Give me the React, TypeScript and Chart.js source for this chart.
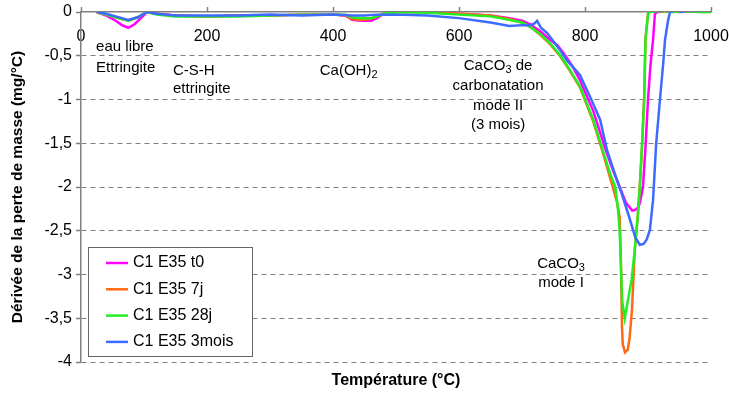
import React, { useEffect, useRef } from 'react';
import { Chart, registerables } from 'chart.js';

Chart.register(...registerables);

const FONT = '"Liberation Sans", Arial, Helvetica, sans-serif';

// ---- Data ----
const seriesLabels = ['C1 E35 t0', 'C1 E35 7j', 'C1 E35 28j', 'C1 E35 3mois'];
const seriesColors = ['#ff00ff', '#ff6a13', '#22ee22', '#3d6bff'];

const t0Temps = [25, 40, 55, 65, 75, 85, 95, 105, 120, 150, 200, 250, 300, 350, 400, 420, 430, 445, 460, 470, 480, 500, 550, 600, 650, 680, 700, 713, 729, 745, 756, 765, 780, 792, 813, 833, 845, 855, 865, 875, 880, 885, 888, 892, 896, 900, 904, 908, 911, 915, 930, 950, 970, 985, 1000];
const t0Values = [0, -0.04, -0.1, -0.15, -0.18, -0.14, -0.07, 0, -0.02, -0.04, -0.05, -0.04, -0.04, -0.03, -0.03, -0.04, -0.09, -0.1, -0.1, -0.07, -0.02, 0, 0, -0.02, -0.04, -0.07, -0.1, -0.14, -0.22, -0.32, -0.38, -0.46, -0.62, -0.78, -1.13, -1.58, -1.82, -2.0, -2.18, -2.27, -2.26, -2.23, -2.15, -2.0, -1.55, -1.0, -0.6, -0.32, -0.02, 0, 0.01, 0, 0.01, 0, 0.01];

const j7Temps = [25, 40, 55, 75, 90, 105, 120, 150, 200, 250, 300, 350, 400, 420, 430, 445, 460, 470, 480, 500, 550, 600, 650, 680, 700, 713, 729, 745, 760, 775, 792, 813, 828, 844, 851, 855, 857, 858.7, 860, 863.5, 868, 871, 874.6, 879, 884, 887, 890.5, 894, 896, 900, 903, 915, 930, 945, 960, 975, 990, 1000];
const j7Values = [0, -0.03, -0.06, -0.1, -0.06, 0, -0.02, -0.04, -0.05, -0.04, -0.04, -0.03, -0.03, -0.04, -0.08, -0.09, -0.08, -0.05, -0.02, 0, 0, -0.02, -0.04, -0.08, -0.12, -0.17, -0.26, -0.37, -0.5, -0.66, -0.86, -1.25, -1.6, -2.0, -2.18, -2.34, -2.83, -3.6, -3.8, -3.89, -3.86, -3.71, -3.4, -2.72, -2.3, -1.98, -1.55, -0.95, -0.3, -0.02, 0.01, 0.02, 0, 0.02, 0.01, 0.02, 0, 0.01];

const j28Temps = [25, 40, 55, 75, 90, 105, 120, 150, 200, 250, 300, 350, 400, 420, 430, 445, 460, 470, 480, 500, 550, 600, 650, 680, 700, 713, 729, 745, 760, 775, 792, 813, 829, 840, 848, 852, 855, 857, 859, 863, 868, 874, 879, 884, 887, 890, 894, 896, 900, 903, 920, 940, 960, 980, 1000];
const j28Values = [0, -0.03, -0.06, -0.1, -0.06, 0, -0.03, -0.05, -0.05, -0.05, -0.04, -0.03, -0.03, -0.03, -0.06, -0.07, -0.07, -0.05, -0.02, 0, -0.01, -0.03, -0.05, -0.09, -0.12, -0.17, -0.25, -0.36, -0.49, -0.65, -0.85, -1.23, -1.6, -1.85, -2.0, -2.23, -2.5, -2.9, -3.3, -3.5, -3.3, -3.06, -2.72, -2.32, -2.0, -1.58, -1.0, -0.32, -0.03, 0, 0.01, 0, 0.01, 0, 0];

const m3Temps = [25, 40, 55, 75, 90, 105, 120, 150, 200, 250, 300, 350, 400, 430, 450, 470, 500, 550, 600, 650, 680, 700, 713, 720, 724, 730, 740, 760, 771, 792, 810, 824, 835, 845, 858, 870, 880, 887, 893, 898, 903, 908, 913, 919, 924, 927, 932, 935, 945, 955, 965, 975, 985, 1000];
const m3Values = [0, -0.02, -0.05, -0.09, -0.06, 0, -0.02, -0.04, -0.04, -0.04, -0.03, -0.04, -0.03, -0.04, -0.04, -0.03, -0.03, -0.04, -0.07, -0.12, -0.16, -0.15, -0.15, -0.13, -0.1, -0.18, -0.24, -0.43, -0.55, -0.72, -1.0, -1.23, -1.58, -1.8, -2.07, -2.34, -2.58, -2.66, -2.65, -2.6, -2.49, -2.15, -1.5, -1.0, -0.6, -0.32, -0.09, 0, 0.02, 0, 0.03, 0.01, 0.02, 0.01];

const seriesTemps = [t0Temps, j7Temps, j28Temps, m3Temps];
const seriesValues = [t0Values, j7Values, j28Values, m3Values];

const xTicks = [0, 200, 400, 600, 800, 1000];
const yTicks = [0, -0.5, -1, -1.5, -2, -2.5, -3, -3.5, -4];

const xTitle = 'Température (°C)';
const yTitle = 'Dérivée de la perte de masse (mg/°C)';

// annotation texts; parts: [text, isSubscript]
type Part = [string, boolean];
const annotations: { parts: Part[]; t: number; v: number; align: 'left' | 'center' }[] = [
  { parts: [['eau libre', false]], t: 24, v: -0.4, align: 'left' },
  { parts: [['Ettringite', false]], t: 24, v: -0.64, align: 'left' },
  { parts: [['C-S-H', false]], t: 146, v: -0.674, align: 'left' },
  { parts: [['ettringite', false]], t: 146, v: -0.88, align: 'left' },
  { parts: [['Ca(OH)', false], ['2', true]], t: 379, v: -0.674, align: 'left' },
  { parts: [['CaCO', false], ['3', true], [' de', false]], t: 662, v: -0.617, align: 'center' },
  { parts: [['carbonatation', false]], t: 662, v: -0.846, align: 'center' },
  { parts: [['mode II', false]], t: 662, v: -1.074, align: 'center' },
  { parts: [['(3 mois)', false]], t: 662, v: -1.29, align: 'center' },
  { parts: [['CaCO', false], ['3', true]], t: 762, v: -2.88, align: 'center' },
  { parts: [['mode I', false]], t: 762, v: -3.1, align: 'center' },
];

function drawRich(ctx: CanvasRenderingContext2D, parts: Part[], x: number, y: number, align: string) {
  const mainFont = `15px ${FONT}`;
  const subFont = `11px ${FONT}`;
  let total = 0;
  const widths = parts.map(([txt, sub]) => {
    ctx.font = sub ? subFont : mainFont;
    const w = ctx.measureText(txt).width;
    total += w;
    return w;
  });
  let cx = align === 'center' ? x - total / 2 : x;
  ctx.textAlign = 'left';
  ctx.textBaseline = 'middle';
  parts.forEach(([txt, sub], i) => {
    ctx.font = sub ? subFont : mainFont;
    ctx.fillText(txt, cx, sub ? y + 4 : y);
    cx += widths[i];
  });
}

const overlayPlugin = {
  id: 'overlay',
  afterDraw(chart: any) {
    const { ctx, chartArea } = chart;
    const xs = chart.scales.x;
    const ys = chart.scales.y;
    ctx.save();
    ctx.fillStyle = '#000';
    for (const a of annotations) {
      drawRich(ctx, a.parts, xs.getPixelForValue(a.t), ys.getPixelForValue(a.v), a.align);
    }
    // x-axis title
    ctx.font = `bold 16px ${FONT}`;
    ctx.textAlign = 'center';
    ctx.textBaseline = 'middle';
    ctx.fillStyle = '#000';
    ctx.fillText(xTitle, (chartArea.left + chartArea.right) / 2, chartArea.bottom + 19);

    // legend box
    const bx = chartArea.left + 7;
    const by = chartArea.top + 235;
    const bw = 164;
    const bh = 109;
    ctx.fillStyle = '#fff';
    ctx.fillRect(bx, by, bw, bh);
    ctx.strokeStyle = '#666';
    ctx.lineWidth = 1;
    ctx.strokeRect(bx + 0.5, by + 0.5, bw, bh);
    ctx.font = `16px ${FONT}`;
    ctx.textAlign = 'left';
    seriesLabels.forEach((lab, i) => {
      const ry = by + 16 + i * 26.3;
      ctx.strokeStyle = seriesColors[i];
      ctx.lineWidth = 2.5;
      ctx.beginPath();
      ctx.moveTo(bx + 18, ry);
      ctx.lineTo(bx + 40, ry);
      ctx.stroke();
      ctx.fillStyle = '#000';
      ctx.fillText(lab, bx + 45, ry);
    });
    ctx.restore();
  },
};

export default function App() {
  const ref = useRef<HTMLCanvasElement>(null);
  useEffect(() => {
    document.body.style.margin = '0';
    const datasets = seriesLabels.map((label, i) => ({
      label,
      data: seriesTemps[i].map((t, k) => ({ x: t, y: seriesValues[i][k] })),
      borderColor: seriesColors[i],
      backgroundColor: seriesColors[i],
      borderWidth: 2.5,
      pointRadius: 0,
      tension: 0,
      fill: false,
      order: 4 - i,
    }));
    const chart = new Chart(ref.current as HTMLCanvasElement, {
      type: 'line',
      data: { datasets },
      plugins: [overlayPlugin],
      options: {
        responsive: false,
        animation: false,
        layout: { padding: { left: 0, right: 18, top: 0, bottom: 42 } },
        plugins: { legend: { display: false }, tooltip: { enabled: false }, title: { display: false } },
        scales: {
          x: {
            type: 'linear',
            position: 'top',
            min: 0,
            max: 1000,
            afterBuildTicks: (s: any) => { s.ticks = xTicks.map((v) => ({ value: v })); },
            afterFit: (s: any) => { s.height = 12; s.paddingLeft = 0; s.paddingRight = 0; },
            ticks: {
              mirror: true,
              padding: 15,
              autoSkip: false,
              maxRotation: 0,
              color: '#000',
              font: { family: FONT, size: 16 },
              callback: (v: any) => String(v),
            },
            grid: { drawOnChartArea: false, drawTicks: true, tickLength: 5, tickColor: '#808080', tickWidth: 1.5 },
            border: { color: '#808080', width: 1.5 },
          },
          y: {
            type: 'linear',
            min: -4,
            max: 0,
            afterBuildTicks: (s: any) => { s.ticks = yTicks.map((v) => ({ value: v })); },
            afterFit: (s: any) => { s.width = 81; s.paddingTop = 0; s.paddingBottom = 0; },
            ticks: {
              padding: 4,
              color: '#000',
              font: { family: FONT, size: 16 },
              callback: (v: any) => String(v).replace('.', ','),
            },
            grid: {
              color: (c: any) => (c.tick && c.tick.value === 0 ? 'rgba(0,0,0,0)' : '#808080'),
              lineWidth: 1,
              tickColor: '#808080',
              tickLength: 5,
              tickWidth: 1.5,
            },
            border: { color: '#808080', width: 1.5, dash: [5, 4] },
            title: {
              display: true,
              text: yTitle,
              color: '#000',
              font: { family: FONT, size: 15.5, weight: 'bold' },
              padding: { top: 8, bottom: 0 },
            },
          },
        },
      },
    });
    return () => chart.destroy();
  }, []);
  return (
    <div style={{ width: 729, height: 404 }}>
      <canvas ref={ref} width={729} height={404} style={{ display: 'block' }} />
    </div>
  );
}
